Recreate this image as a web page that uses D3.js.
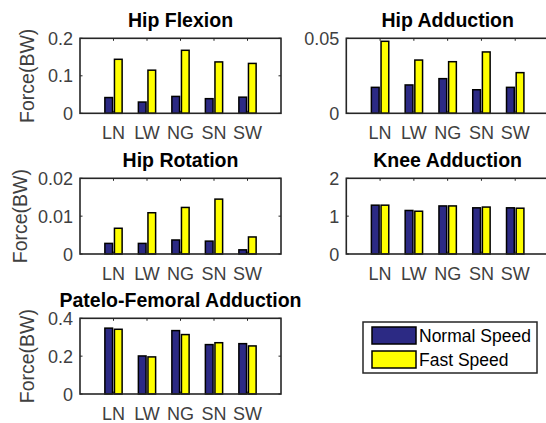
<!DOCTYPE html>
<html>
<head>
<meta charset="utf-8">
<script src="https://cdn.jsdelivr.net/npm/d3@7"></script>
<style>
  html, body { margin: 0; padding: 0; background: #ffffff; }
  svg { display: block; }
  text { font-family: "Liberation Sans", Arial, sans-serif; }
</style>
</head>
<body>
<script>
// ---------- data ----------
const categories = ["LN", "LW", "NG", "SN", "SW"];
const seriesNames = ["Normal Speed", "Fast Speed"];

const titles = ["Hip Flexion", "Hip Adduction", "Hip Rotation", "Knee Adduction", "Patelo-Femoral Adduction"];

const hipFlexionNormal = [0.042, 0.030, 0.045, 0.039, 0.043];
const hipFlexionFast   = [0.144, 0.115, 0.168, 0.137, 0.133];

const hipAdductionNormal = [0.0173, 0.0189, 0.0231, 0.0157, 0.0173];
const hipAdductionFast   = [0.0480, 0.0355, 0.0344, 0.0409, 0.0271];

const hipRotationNormal = [0.0028, 0.0028, 0.0037, 0.0034, 0.0011];
const hipRotationFast   = [0.0068, 0.0109, 0.0123, 0.0145, 0.0045];

const kneeAdductionNormal = [1.29, 1.15, 1.27, 1.22, 1.22];
const kneeAdductionFast   = [1.29, 1.13, 1.27, 1.24, 1.21];

const pfAdductionNormal = [0.348, 0.201, 0.335, 0.261, 0.266];
const pfAdductionFast   = [0.342, 0.196, 0.314, 0.271, 0.254];

const yMaxes = [0.2, 0.05, 0.02, 2, 0.4];
const yTickValues = [[0, 0.1, 0.2], [0, 0.05], [0, 0.01, 0.02], [0, 1, 2], [0, 0.2, 0.4]];
const yTickLabels = [["0", "0.1", "0.2"], ["0", "0.05"], ["0", "0.01", "0.02"], ["0", "1", "2"], ["0", "0.2", "0.4"]];
const showYLabel = [true, false, true, false, true];

const normalSeries = [hipFlexionNormal, hipAdductionNormal, hipRotationNormal, kneeAdductionNormal, pfAdductionNormal];
const fastSeries = [hipFlexionFast, hipAdductionFast, hipRotationFast, kneeAdductionFast, pfAdductionFast];

// ---------- layout ----------
const W = 546, H = 423;
const colors = ["#2c2a84", "#ffff00"];
const axisColor = "#262626";
const tickTextColor = "#404040";

const panels = [
  { x0: 80,  x1: 281, y0: 38.3,  y1: 113.3 },
  { x0: 346.3, x1: 549, y0: 38.3,  y1: 113.3 },
  { x0: 80,  x1: 281, y0: 178.3, y1: 254 },
  { x0: 346.3, x1: 549, y0: 178.3, y1: 254 },
  { x0: 80,  x1: 281, y0: 318.3, y1: 394 }
];

const svg = d3.select("body").append("svg")
  .attr("width", W).attr("height", H);

svg.append("rect").attr("width", W).attr("height", H).attr("fill", "#ffffff");

const barW = 0.229, offs = [-0.143, 0.143];

panels.forEach((p, k) => {
  const g = svg.append("g");
  const x = d3.scaleLinear().domain([0, 6]).range([p.x0, p.x1]);
  const y = d3.scaleLinear().domain([0, yMaxes[k]]).range([p.y1, p.y0]);

  // bars
  [normalSeries[k], fastSeries[k]].forEach((vals, s) => {
    g.selectAll(null).data(vals).enter().append("rect")
      .attr("x", (d, i) => x(i + 1 + offs[s] - barW / 2))
      .attr("width", (d, i) => x(i + 1 + offs[s] + barW / 2) - x(i + 1 + offs[s] - barW / 2))
      .attr("y", d => y(d))
      .attr("height", d => y(0) - y(d))
      .attr("fill", colors[s])
      .attr("stroke", "#000")
      .attr("stroke-width", 1.5);
  });

  // box
  g.append("rect")
    .attr("x", p.x0).attr("y", p.y0)
    .attr("width", p.x1 - p.x0).attr("height", p.y1 - p.y0)
    .attr("fill", "none").attr("stroke", axisColor).attr("stroke-width", 1.6);

  // x ticks (inward, top and bottom)
  const xt = d3.range(1, categories.length + 1);
  g.selectAll(null).data(xt).enter().append("line")
    .attr("x1", d => x(d)).attr("x2", d => x(d))
    .attr("y1", p.y1).attr("y2", p.y1 - 2.5)
    .attr("stroke", axisColor).attr("stroke-width", 1);
  g.selectAll(null).data(xt).enter().append("line")
    .attr("x1", d => x(d)).attr("x2", d => x(d))
    .attr("y1", p.y0).attr("y2", p.y0 + 2.5)
    .attr("stroke", axisColor).attr("stroke-width", 1);

  // y ticks (inward, left and right)
  g.selectAll(null).data(yTickValues[k]).enter().append("line")
    .attr("x1", p.x0).attr("x2", p.x0 + 2.5)
    .attr("y1", d => y(d)).attr("y2", d => y(d))
    .attr("stroke", axisColor).attr("stroke-width", 1);
  g.selectAll(null).data(yTickValues[k]).enter().append("line")
    .attr("x1", p.x1).attr("x2", p.x1 - 2.5)
    .attr("y1", d => y(d)).attr("y2", d => y(d))
    .attr("stroke", axisColor).attr("stroke-width", 1);

  // x tick labels
  g.selectAll(null).data(categories).enter().append("text")
    .attr("x", (d, i) => x(i + 1))
    .attr("y", p.y1 + 26)
    .attr("text-anchor", "middle")
    .attr("font-size", 18)
    .attr("fill", tickTextColor)
    .text(d => d);

  // y tick labels
  g.selectAll(null).data(yTickValues[k]).enter().append("text")
    .attr("x", p.x0 - 7)
    .attr("y", d => y(d) + 6.5)
    .attr("text-anchor", "end")
    .attr("font-size", 18)
    .attr("fill", tickTextColor)
    .text((d, i) => yTickLabels[k][i]);

  // title
  g.append("text")
    .attr("x", (p.x0 + p.x1) / 2)
    .attr("y", p.y0 - 11)
    .attr("text-anchor", "middle")
    .attr("font-size", 19.5)
    .attr("font-weight", "bold")
    .attr("fill", "#000")
    .text(titles[k]);

  // y label
  if (showYLabel[k]) {
    const lx = k === 2 ? 27 : 34;
    g.append("text")
      .attr("transform", `translate(${lx},${(p.y0 + p.y1) / 2}) rotate(-90)`)
      .attr("text-anchor", "middle")
      .attr("font-size", 19.5)
      .attr("fill", tickTextColor)
      .text("Force(BW)");
  }
});

// ---------- legend ----------
const lg = svg.append("g");
lg.append("rect")
  .attr("x", 363).attr("y", 322).attr("width", 174).attr("height", 51)
  .attr("fill", "#fff").attr("stroke", axisColor).attr("stroke-width", 1.5);
seriesNames.forEach((name, i) => {
  lg.append("rect")
    .attr("x", 372).attr("y", 327 + i * 24).attr("width", 44).attr("height", 17)
    .attr("fill", colors[i]).attr("stroke", "#000").attr("stroke-width", 1.5);
  lg.append("text")
    .attr("x", 419).attr("y", 342 + i * 24)
    .attr("font-size", 17.5)
    .attr("fill", "#000")
    .text(name);
});
</script>
</body>
</html>
